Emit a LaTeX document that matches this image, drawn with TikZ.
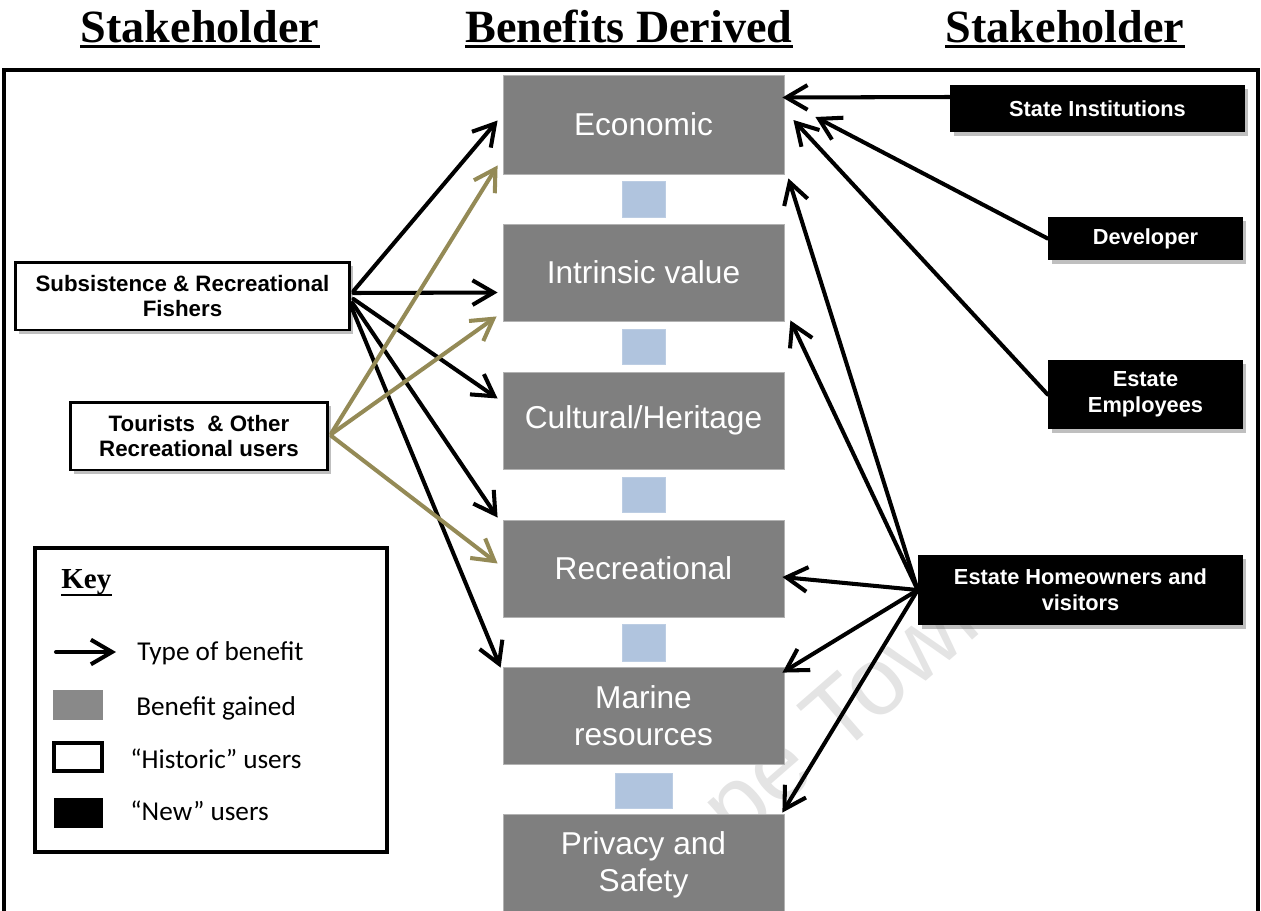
\documentclass[tikz,border=0pt]{standalone}
\usepackage{fontspec}
\setmainfont{Liberation Serif}
\setsansfont{Liberation Sans}
\newfontfamily\keyfont{Carlito}
\usetikzlibrary{arrows.meta,shadows,fit,calc}

\definecolor{benefitgray}{RGB}{127,127,127}
\definecolor{benefitedge}{RGB}{178,178,178}
\definecolor{linkblue}{RGB}{176,196,222}
\definecolor{touristolive}{RGB}{148,138,86}
\definecolor{watermark}{RGB}{228,228,228}

\tikzset{
  boxshadow/.style={drop shadow={shadow xshift=0.07cm, shadow yshift=-0.07cm, opacity=0.5}},
  benefit/.style={inner sep=0pt, fill=benefitgray, draw=benefitedge, line width=0.5pt,
    minimum width=5.62cm, minimum height=1.94cm,
    text=white, font=\sffamily\fontsize{18}{21}\selectfont, align=center},
  linkbox/.style={inner sep=0pt, fill=linkblue, draw=linkblue!85!white, line width=0.5pt},
  historic/.style={inner sep=0pt, fill=white, draw=black, line width=1.7pt, boxshadow,
    minimum height=1.36cm,
    font=\sffamily\bfseries\fontsize{12.7}{14}\selectfont, align=center},
  newuser/.style={inner sep=0pt, fill=black, boxshadow, text=white,
    font=\sffamily\bfseries\fontsize{12.4}{15}\selectfont, align=center},
  header/.style={inner sep=0pt, anchor=base, font=\bfseries\fontsize{26.3}{30}\selectfont},
  benefitarrow/.style={line width=2.3pt, line cap=round, line join=round,
    -{Straight Barb[length=12pt,width=14pt]}},
  touristarrow/.style={benefitarrow, draw=touristolive},
  keytext/.style={inner sep=0pt, anchor=base west, font=\keyfont\fontsize{15.5}{18}\selectfont},
}

\begin{document}
\begin{tikzpicture}[x=0.02cm, y=-0.02cm]
\useasboundingbox (0,0) rectangle (1261,910);
\clip (0,0) rectangle (1261,910);

% faint watermark behind everything
\node[rotate=41, anchor=base, text=watermark, inner sep=0pt,
      font=\sffamily\fontsize{55}{55}\selectfont] (wm) at (826,768) {Cape Town};

% column headings
\node[header] (h1) at (200,42) {Stakeholder};
\node[header] (h2) at (629,42) {Benefits Derived};
\node[header] (h3) at (1065,42) {Stakeholder};
\foreach \h in {h1,h2,h3}
  \draw[line width=1.7pt] ([yshift=-2.6pt]\h.base west) -- ([yshift=-2.6pt]\h.base east);

% outer frame (open at the bottom)
\draw[line width=1.9pt] (4,950) -- (4,70) -- (1258,70) -- (1258,950);

% benefits column
\node[benefit, minimum height=1.98cm] (econ) at (643.5,124.5) {Economic};
\node[benefit] (intr) at (643.5,272.5) {Intrinsic value};
\node[benefit] (cult) at (643.5,420.5) {Cultural/Heritage};
\node[benefit] (recr) at (643.5,568.5) {Recreational};
\node[benefit] (mari) at (643.5,715.5) {Marine\\resources};
\node[benefit, minimum height=2.04cm] (priv) at (643.5,865) {Privacy and\\Safety};

\node[linkbox, fit={(622,181) (665,217)}] (l1) {};
\node[linkbox, fit={(622,329) (665,364)}] (l2) {};
\node[linkbox, fit={(622,477) (665,512)}] (l3) {};
\node[linkbox, fit={(622,624) (665,661)}] (l4) {};
\node[linkbox, fit={(615,773) (672,808)}] (l5) {};

% historic users
\node[historic, minimum width=6.7cm] (subs) at (182.5,296) {Subsistence \& Recreational\\Fishers};
\node[historic, minimum width=5.16cm] (tour) at (199,436) {Tourists\ \ \& Other\\Recreational users};

% new users
\node[newuser, minimum width=5.9cm, minimum height=0.94cm] (state) at (1097.5,108.5) {State Institutions};
\node[newuser, minimum width=3.9cm, minimum height=0.86cm] (dev) at (1145.5,238.5) {Developer};
\node[newuser, minimum width=3.9cm, minimum height=1.38cm] (empl) at (1145.5,394.5) {Estate\\Employees};
\node[newuser, minimum width=6.5cm, minimum height=1.4cm] (home) at (1080.5,590) {Estate Homeowners and\\visitors};

% fishers
\draw[benefitarrow] ([shift={(2,-5)}]subs.east) -- ([shift={(-5,-4)}]econ.west);
\draw[benefitarrow] ([shift={(2,-3)}]subs.east) -- ([shift={(-5,20)}]intr.west);
\draw[benefitarrow] ([shift={(2,3)}]subs.east) -- ([shift={(-5,-22)}]cult.west);
\draw[benefitarrow] ([shift={(1,7)}]subs.east) -- ([shift={(-5,-2)}]recr.north west);
\draw[benefitarrow] ([shift={(0,11)}]subs.east) -- ([shift={(-2,1)}]mari.north west);

% tourists
\draw[touristarrow] ([shift={(2,-3)}]tour.east) -- ([shift={(-5,-9)}]econ.south west);
\draw[touristarrow] ([shift={(2,-2)}]tour.east) -- ([shift={(-6,-5)}]intr.south west);
\draw[touristarrow] ([shift={(2,0)}]tour.east) -- ([shift={(-5,-5)}]recr.west);

% new users
\draw[benefitarrow] ([shift={(0,-11.5)}]state.west) -- ([shift={(-2,-27)}]econ.east);
\draw[benefitarrow] (dev.west) -- ([shift={(31,-7.5)}]econ.east);
\draw[benefitarrow] (empl.west) -- ([shift={(9,-4.5)}]econ.east);
\draw[benefitarrow] (home.west) -- ([shift={(4,4)}]econ.south east);
\draw[benefitarrow] (home.west) -- ([shift={(6,-1)}]intr.south east);
\draw[benefitarrow] (home.west) -- ([shift={(-2,8.5)}]recr.east);
\draw[benefitarrow] (home.west) -- ([shift={(-2,6)}]mari.north east);
\draw[benefitarrow] (home.west) -- ([shift={(-2,-1)}]priv.north east);

% key
\node[fit={(35,548) (387,852)}, inner sep=0pt, draw, line width=2pt, fill=white] (key) {};
\node[inner sep=0pt, anchor=base west, font=\bfseries\fontsize{16.5}{18}\selectfont] (keytitle) at (61,588) {Key};
\draw[line width=1.2pt] ([yshift=-3.8pt]keytitle.base west) -- ([yshift=-3.8pt]keytitle.base east);

\coordinate (ka) at (56,652);
\coordinate (kb) at (116,652);
\draw[benefitarrow] (ka) -- (kb);
\node[keytext] (kt1) at (137,660) {Type of benefit};

\node[fit={(53,690) (103,720)}, inner sep=0pt, fill=benefitgray!92!white] (kgray) {};
\node[keytext] (kt2) at (136,715) {Benefit gained};

\node[fit={(54,743) (102,771)}, inner sep=0pt, draw, line width=1.8pt, fill=white] (kwhite) {};
\node[keytext] (kt3) at (130,768) {“Historic” users};

\node[fit={(54,798) (103,828)}, inner sep=0pt, fill=black] (kblack) {};
\node[keytext] (kt4) at (130,820) {“New” users};
\end{tikzpicture}
\end{document}
